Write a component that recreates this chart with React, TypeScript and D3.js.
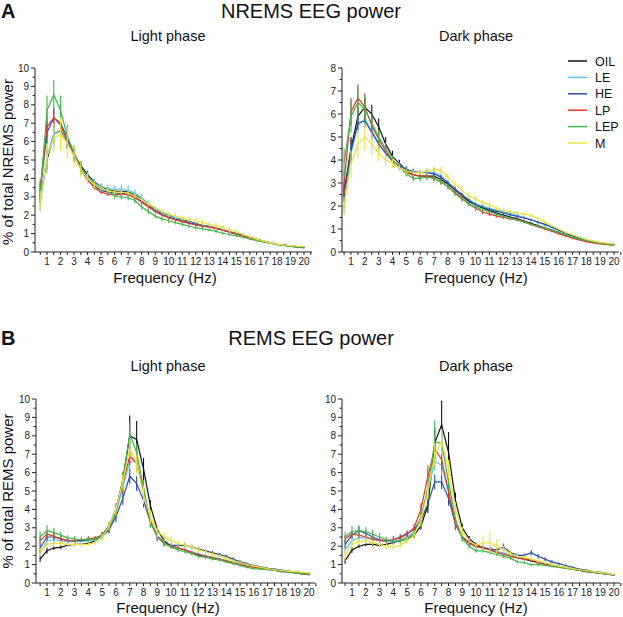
import React from "react";
import * as d3 from "d3";

const FREQ = [0.5,1,1.5,2,2.5,3,3.5,4,4.5,5,5.5,6,6.5,7,7.5,8,8.5,9,9.5,10,10.5,11,11.5,12,12.5,13,13.5,14,14.5,15,15.5,16,16.5,17,17.5,18,18.5,19,19.5,20];
const X_LABELS = [1,2,3,4,5,6,7,8,9,10,11,12,13,14,15,16,17,18,19,20];
const SERIES = ["OIL","LE","HE","LP","LEP","M"];
const COLORS = ["#111111","#5cc6e8","#2c4ea3","#e2362c","#3fb54a","#ebe23c"];

// NREMS light
const NL_OIL = [3.0,5.0,6.4,6.6,6.0,5.3,4.7,4.2,3.8,3.55,3.4,3.3,3.3,3.25,3.1,2.9,2.6,2.35,2.15,2.0,1.85,1.75,1.65,1.55,1.45,1.4,1.3,1.2,1.1,1.0,0.9,0.8,0.7,0.6,0.5,0.42,0.38,0.33,0.28,0.25];
const NL_LE = [2.6,5.2,6.4,6.6,6.0,5.3,4.6,4.1,3.75,3.55,3.45,3.4,3.4,3.35,3.2,2.95,2.65,2.35,2.15,2.0,1.85,1.72,1.62,1.52,1.45,1.38,1.3,1.2,1.1,1.0,0.9,0.8,0.7,0.6,0.5,0.42,0.37,0.32,0.28,0.25];
const NL_HE = [3.3,6.5,7.3,7.0,6.2,5.3,4.6,4.0,3.6,3.35,3.25,3.2,3.2,3.15,3.0,2.75,2.5,2.25,2.05,1.9,1.78,1.68,1.58,1.5,1.42,1.36,1.28,1.18,1.08,0.98,0.88,0.78,0.68,0.58,0.48,0.42,0.37,0.32,0.28,0.25];
const NL_LP = [3.5,6.8,7.3,6.9,6.0,5.2,4.5,3.9,3.5,3.25,3.15,3.1,3.15,3.1,2.95,2.7,2.45,2.2,2.0,1.85,1.75,1.65,1.55,1.47,1.4,1.35,1.28,1.18,1.08,0.98,0.88,0.78,0.68,0.58,0.48,0.42,0.37,0.32,0.28,0.25];
const NL_LEP = [3.2,7.7,8.55,7.7,6.3,5.4,4.5,4.0,3.7,3.45,3.3,3.05,3.0,2.95,2.8,2.45,2.2,1.95,1.8,1.7,1.6,1.5,1.4,1.32,1.26,1.2,1.12,1.02,0.95,0.88,0.8,0.7,0.62,0.55,0.48,0.4,0.35,0.3,0.25,0.22];
const NL_M = [2.8,5.2,6.2,6.4,5.9,5.2,4.5,4.0,3.65,3.45,3.35,3.25,3.25,3.2,3.05,2.85,2.6,2.4,2.2,2.05,1.95,1.85,1.78,1.7,1.6,1.5,1.42,1.32,1.2,1.1,0.95,0.82,0.7,0.6,0.5,0.43,0.38,0.35,0.32,0.3];
const NL_OIL_SEM = [0.3,0.5,0.5,0.5,0.4,0.3,0.25,0.2,0.15,0.12,0.1,0.1,0.1,0.1,0.1,0.1,0.1,0.08,0.08,0.08,0.07,0.07,0.06,0.06,0.06,0.05,0.05,0.05,0.05,0.05,0.04,0.04,0.04,0.03,0.03,0.03,0.03,0.02,0.02,0.02];
const NL_LE_SEM = [0.4,0.9,0.7,0.5,0.4,0.35,0.3,0.25,0.2,0.2,0.2,0.2,0.25,0.25,0.2,0.2,0.15,0.12,0.1,0.1,0.08,0.08,0.08,0.07,0.07,0.06,0.06,0.06,0.05,0.05,0.05,0.04,0.04,0.04,0.03,0.03,0.03,0.02,0.02,0.02];
const NL_HE_SEM = [0.4,0.6,0.5,0.5,0.4,0.3,0.25,0.2,0.15,0.12,0.1,0.1,0.1,0.1,0.1,0.1,0.1,0.08,0.08,0.08,0.07,0.07,0.06,0.06,0.06,0.05,0.05,0.05,0.05,0.05,0.04,0.04,0.04,0.03,0.03,0.03,0.03,0.02,0.02,0.02];
const NL_LP_SEM = [0.4,0.6,0.5,0.4,0.35,0.3,0.2,0.15,0.12,0.1,0.1,0.1,0.1,0.1,0.1,0.1,0.08,0.08,0.07,0.07,0.06,0.06,0.06,0.06,0.05,0.05,0.05,0.05,0.05,0.04,0.04,0.04,0.04,0.03,0.03,0.03,0.03,0.02,0.02,0.02];
const NL_LEP_SEM = [0.6,0.8,0.8,0.8,0.6,0.4,0.3,0.2,0.15,0.15,0.15,0.15,0.15,0.15,0.15,0.15,0.15,0.12,0.12,0.12,0.1,0.1,0.1,0.1,0.1,0.08,0.08,0.08,0.08,0.07,0.06,0.06,0.05,0.05,0.04,0.04,0.03,0.03,0.03,0.03];
const NL_M_SEM = [0.5,0.7,0.8,0.9,0.8,0.6,0.45,0.3,0.2,0.15,0.12,0.12,0.12,0.12,0.12,0.12,0.12,0.12,0.15,0.15,0.15,0.15,0.15,0.15,0.15,0.15,0.15,0.15,0.15,0.12,0.1,0.1,0.08,0.06,0.05,0.04,0.04,0.03,0.03,0.03];

// NREMS dark
const ND_OIL = [2.6,4.5,5.9,6.3,6.0,5.45,4.7,4.15,3.85,3.55,3.35,3.3,3.3,3.3,3.15,2.95,2.7,2.45,2.2,2.05,1.92,1.8,1.7,1.6,1.52,1.45,1.35,1.25,1.15,1.05,0.95,0.85,0.75,0.65,0.57,0.5,0.45,0.4,0.35,0.32];
const ND_LE = [1.9,4.3,5.5,5.8,5.3,4.7,4.3,3.95,3.75,3.6,3.5,3.45,3.5,3.45,3.3,3.05,2.75,2.5,2.3,2.1,2.0,1.9,1.82,1.75,1.68,1.6,1.5,1.4,1.3,1.2,1.08,0.95,0.82,0.7,0.6,0.52,0.46,0.4,0.36,0.33];
const ND_HE = [2.5,4.4,5.6,5.7,5.2,4.7,4.3,3.95,3.75,3.6,3.5,3.45,3.45,3.4,3.25,3.0,2.75,2.5,2.25,2.05,1.95,1.85,1.78,1.7,1.62,1.55,1.48,1.4,1.3,1.2,1.08,0.95,0.82,0.7,0.6,0.5,0.45,0.4,0.35,0.32];
const ND_LP = [3.0,6.1,6.7,6.3,5.5,4.9,4.4,3.95,3.7,3.45,3.35,3.3,3.3,3.2,3.05,2.85,2.6,2.35,2.1,1.9,1.75,1.65,1.57,1.5,1.45,1.4,1.32,1.2,1.1,1.0,0.9,0.8,0.7,0.6,0.52,0.45,0.4,0.35,0.32,0.3];
const ND_LEP = [3.9,5.9,6.5,6.2,5.6,5.0,4.5,4.0,3.7,3.4,3.2,3.2,3.25,3.2,3.05,2.85,2.55,2.3,2.1,1.95,1.85,1.75,1.65,1.55,1.48,1.4,1.3,1.2,1.12,1.05,0.95,0.85,0.75,0.65,0.57,0.5,0.44,0.38,0.34,0.3];
const ND_M = [2.0,3.8,4.7,5.0,4.7,4.3,4.0,3.85,3.65,3.5,3.45,3.45,3.5,3.6,3.55,3.25,2.95,2.7,2.45,2.3,2.15,2.05,1.9,1.8,1.75,1.7,1.65,1.6,1.45,1.3,1.15,1.0,0.85,0.75,0.65,0.55,0.48,0.42,0.38,0.35];
const ND_OIL_SEM = [0.4,0.5,0.4,0.4,0.4,0.35,0.3,0.25,0.15,0.12,0.1,0.1,0.1,0.1,0.1,0.1,0.12,0.1,0.08,0.08,0.07,0.07,0.06,0.06,0.06,0.05,0.05,0.05,0.05,0.05,0.04,0.04,0.04,0.03,0.03,0.03,0.03,0.02,0.02,0.02];
const ND_LE_SEM = [0.2,0.4,0.3,0.3,0.3,0.25,0.2,0.15,0.15,0.12,0.12,0.12,0.12,0.15,0.12,0.1,0.1,0.1,0.08,0.08,0.07,0.07,0.06,0.06,0.06,0.05,0.05,0.05,0.05,0.05,0.04,0.04,0.04,0.03,0.03,0.03,0.03,0.02,0.02,0.02];
const ND_HE_SEM = [0.3,0.5,0.3,0.3,0.3,0.25,0.2,0.15,0.12,0.12,0.12,0.1,0.1,0.1,0.1,0.1,0.1,0.08,0.08,0.08,0.07,0.07,0.06,0.06,0.06,0.05,0.05,0.05,0.05,0.05,0.04,0.04,0.04,0.03,0.03,0.03,0.03,0.02,0.02,0.02];
const ND_LP_SEM = [0.5,0.6,0.6,0.6,0.4,0.3,0.25,0.15,0.12,0.12,0.12,0.12,0.12,0.12,0.12,0.12,0.1,0.1,0.1,0.1,0.1,0.08,0.08,0.07,0.07,0.06,0.06,0.05,0.05,0.05,0.04,0.04,0.04,0.03,0.03,0.03,0.03,0.02,0.02,0.02];
const ND_LEP_SEM = [0.6,0.7,0.7,0.6,0.4,0.3,0.25,0.2,0.15,0.12,0.12,0.12,0.12,0.12,0.12,0.12,0.12,0.12,0.1,0.1,0.1,0.08,0.08,0.07,0.07,0.06,0.06,0.05,0.05,0.05,0.04,0.04,0.04,0.03,0.03,0.03,0.03,0.02,0.02,0.02];
const ND_M_SEM = [0.4,0.6,0.6,0.6,0.5,0.35,0.25,0.2,0.15,0.12,0.12,0.12,0.15,0.15,0.15,0.15,0.15,0.15,0.12,0.12,0.1,0.1,0.1,0.08,0.08,0.08,0.08,0.08,0.07,0.07,0.06,0.05,0.05,0.04,0.04,0.03,0.03,0.03,0.02,0.02];

// REMS light
const RL_OIL = [1.3,1.75,1.9,1.95,2.05,2.1,2.1,2.15,2.3,2.6,3.1,4.0,5.6,8.0,7.8,6.2,4.2,2.9,2.3,2.0,1.9,1.8,1.65,1.5,1.45,1.4,1.3,1.2,1.1,1.05,0.95,0.88,0.82,0.75,0.7,0.62,0.6,0.55,0.5,0.45];
const RL_LE = [1.6,2.3,2.35,2.3,2.25,2.25,2.25,2.3,2.35,2.5,2.9,3.8,5.2,6.6,6.6,5.0,3.4,2.5,2.15,2.0,1.9,1.82,1.7,1.58,1.48,1.4,1.32,1.22,1.12,1.03,0.95,0.88,0.82,0.76,0.7,0.65,0.6,0.56,0.52,0.5];
const RL_HE = [1.9,2.5,2.5,2.4,2.3,2.3,2.3,2.35,2.4,2.55,2.9,3.6,4.6,5.8,5.4,4.5,3.3,2.55,2.2,2.05,2.05,2.05,1.95,1.85,1.75,1.65,1.55,1.45,1.3,1.15,1.05,0.95,0.88,0.8,0.75,0.7,0.65,0.6,0.55,0.52];
const RL_LP = [2.3,2.65,2.55,2.4,2.3,2.3,2.35,2.4,2.45,2.6,3.0,4.0,5.4,6.9,6.5,5.0,3.4,2.5,2.15,2.0,1.9,1.8,1.65,1.55,1.45,1.35,1.28,1.2,1.1,1.0,0.92,0.85,0.8,0.75,0.7,0.65,0.6,0.55,0.52,0.48];
const RL_LEP = [2.5,2.85,2.75,2.6,2.45,2.4,2.35,2.35,2.4,2.6,3.0,3.9,5.6,8.1,7.1,5.2,3.3,2.5,2.15,1.95,1.8,1.7,1.6,1.45,1.4,1.3,1.25,1.15,1.05,0.95,0.85,0.78,0.75,0.72,0.7,0.65,0.6,0.55,0.5,0.48];
const RL_M = [1.7,2.1,2.15,2.15,2.1,2.1,2.1,2.1,2.2,2.5,3.1,4.0,5.5,7.3,6.5,4.8,3.6,2.8,2.5,2.3,2.15,2.05,1.95,1.8,1.7,1.55,1.45,1.35,1.2,1.1,1.0,0.92,0.85,0.78,0.72,0.68,0.65,0.62,0.58,0.55];
const RL_OIL_SEM = [0.15,0.15,0.1,0.1,0.1,0.1,0.1,0.1,0.1,0.15,0.2,0.3,0.4,1.1,1.0,0.6,0.3,0.2,0.15,0.1,0.1,0.08,0.08,0.07,0.07,0.06,0.06,0.05,0.05,0.05,0.05,0.04,0.04,0.04,0.03,0.03,0.03,0.03,0.03,0.03];
const RL_LE_SEM = [0.2,0.2,0.2,0.15,0.15,0.1,0.1,0.1,0.1,0.15,0.2,0.3,0.4,0.5,0.5,0.4,0.3,0.2,0.15,0.1,0.1,0.08,0.08,0.07,0.07,0.06,0.06,0.05,0.05,0.05,0.05,0.04,0.04,0.04,0.03,0.03,0.03,0.03,0.03,0.03];
const RL_HE_SEM = [0.25,0.2,0.2,0.15,0.15,0.1,0.1,0.1,0.1,0.15,0.2,0.3,0.35,0.4,0.4,0.4,0.3,0.2,0.15,0.12,0.12,0.12,0.12,0.12,0.1,0.1,0.1,0.1,0.1,0.08,0.07,0.06,0.05,0.05,0.04,0.04,0.04,0.03,0.03,0.03];
const RL_LP_SEM = [0.2,0.2,0.15,0.15,0.1,0.1,0.1,0.15,0.1,0.15,0.2,0.35,0.45,0.5,0.5,0.4,0.3,0.2,0.15,0.1,0.1,0.08,0.08,0.07,0.07,0.06,0.06,0.05,0.05,0.05,0.05,0.04,0.04,0.04,0.03,0.03,0.03,0.03,0.03,0.03];
const RL_LEP_SEM = [0.3,0.3,0.25,0.2,0.15,0.15,0.15,0.15,0.15,0.15,0.2,0.3,0.4,0.6,0.5,0.4,0.3,0.2,0.15,0.12,0.12,0.1,0.1,0.1,0.1,0.08,0.08,0.07,0.07,0.06,0.06,0.05,0.05,0.05,0.04,0.04,0.04,0.03,0.03,0.03];
const RL_M_SEM = [0.2,0.2,0.2,0.15,0.15,0.12,0.12,0.12,0.12,0.15,0.2,0.3,0.4,0.5,0.5,0.5,0.4,0.3,0.25,0.25,0.2,0.2,0.2,0.15,0.15,0.12,0.1,0.1,0.1,0.08,0.07,0.06,0.05,0.05,0.04,0.04,0.04,0.03,0.03,0.03];

// REMS dark
const RD_OIL = [1.2,1.8,2.0,2.1,2.1,2.05,2.1,2.2,2.3,2.4,2.6,3.1,4.2,7.6,8.6,7.1,4.5,3.0,2.4,2.1,1.9,1.8,1.7,1.6,1.5,1.4,1.3,1.2,1.1,1.05,0.95,0.88,0.8,0.75,0.68,0.62,0.58,0.52,0.48,0.42];
const RD_LE = [1.8,2.3,2.45,2.45,2.35,2.3,2.25,2.25,2.35,2.5,2.8,3.6,5.0,6.6,6.4,4.9,3.3,2.5,2.15,1.95,1.88,1.8,1.7,1.6,1.5,1.42,1.35,1.28,1.18,1.08,1.0,0.92,0.85,0.78,0.72,0.66,0.6,0.55,0.5,0.46];
const RD_HE = [2.1,2.6,2.85,2.7,2.5,2.35,2.3,2.35,2.5,2.7,2.9,3.4,4.3,5.5,5.5,4.6,3.2,2.5,2.2,2.0,1.95,1.85,1.8,1.95,1.65,1.5,1.5,1.65,1.45,1.3,1.15,1.05,0.95,0.85,0.75,0.7,0.62,0.58,0.52,0.45];
const RD_LP = [2.4,2.65,2.6,2.5,2.4,2.3,2.3,2.35,2.45,2.65,3.0,4.0,5.8,7.3,6.7,5.0,3.2,2.5,2.15,2.0,1.9,1.8,1.65,1.55,1.45,1.35,1.3,1.25,1.1,1.0,0.95,0.9,0.82,0.75,0.7,0.65,0.6,0.55,0.5,0.45];
const RD_LEP = [2.5,2.8,2.85,2.8,2.65,2.5,2.35,2.25,2.3,2.4,2.7,3.5,5.2,7.65,7.6,5.5,3.5,2.4,2.0,1.75,1.75,1.65,1.55,1.45,1.35,1.15,1.1,1.0,1.0,0.95,0.9,0.85,0.8,0.75,0.7,0.65,0.6,0.55,0.5,0.45];
const RD_M = [1.5,2.1,2.25,2.3,2.2,2.1,2.0,1.95,2.05,2.3,2.6,3.4,5.0,7.0,7.7,6.2,4.0,2.8,2.3,2.05,2.15,2.2,2.0,1.8,1.6,1.45,1.4,1.3,1.2,1.1,1.0,0.92,0.85,0.78,0.72,0.68,0.62,0.56,0.52,0.45];
const RD_OIL_SEM = [0.15,0.15,0.1,0.1,0.1,0.1,0.15,0.1,0.1,0.1,0.15,0.2,0.4,0.8,1.3,1.1,0.4,0.2,0.15,0.1,0.1,0.08,0.08,0.07,0.07,0.06,0.06,0.05,0.05,0.05,0.05,0.04,0.04,0.04,0.03,0.03,0.03,0.03,0.03,0.03];
const RD_LE_SEM = [0.2,0.2,0.2,0.15,0.15,0.15,0.12,0.12,0.12,0.15,0.2,0.3,0.4,0.5,0.5,0.4,0.3,0.15,0.12,0.1,0.1,0.08,0.08,0.07,0.07,0.06,0.06,0.05,0.05,0.05,0.05,0.04,0.04,0.04,0.03,0.03,0.03,0.03,0.03,0.03];
const RD_HE_SEM = [0.2,0.2,0.2,0.15,0.15,0.15,0.12,0.15,0.15,0.15,0.15,0.2,0.3,0.4,0.4,0.4,0.3,0.15,0.12,0.1,0.1,0.1,0.1,0.2,0.1,0.1,0.1,0.15,0.12,0.1,0.08,0.06,0.05,0.05,0.04,0.04,0.04,0.03,0.03,0.03];
const RD_LP_SEM = [0.2,0.2,0.15,0.15,0.15,0.15,0.2,0.2,0.15,0.15,0.2,0.35,0.6,0.5,0.6,0.4,0.3,0.15,0.12,0.1,0.1,0.08,0.08,0.07,0.07,0.06,0.06,0.05,0.05,0.05,0.05,0.04,0.04,0.04,0.03,0.03,0.03,0.03,0.03,0.03];
const RD_LEP_SEM = [0.3,0.3,0.3,0.25,0.25,0.2,0.15,0.15,0.12,0.12,0.15,0.3,0.5,1.2,0.6,0.4,0.3,0.15,0.12,0.1,0.1,0.1,0.1,0.1,0.08,0.08,0.08,0.07,0.07,0.06,0.06,0.05,0.05,0.05,0.04,0.04,0.04,0.03,0.03,0.03];
const RD_M_SEM = [0.3,0.25,0.2,0.2,0.15,0.15,0.15,0.15,0.15,0.2,0.25,0.35,0.5,0.6,0.7,0.5,0.4,0.25,0.15,0.15,0.4,0.6,0.4,0.2,0.15,0.12,0.1,0.1,0.1,0.08,0.07,0.06,0.05,0.05,0.04,0.04,0.04,0.03,0.03,0.03];

const FONT = "'Liberation Sans', Arial, Helvetica, sans-serif";

type PanelCfg = {
  values: number[][];
  sems: number[][];
  yMax: number;
  axisX0: number; x1: number; x20: number; axisX1: number;
  y0: number; yTop: number;
};

const PANELS: PanelCfg[] = [
  { values: [NL_OIL, NL_LE, NL_HE, NL_LP, NL_LEP, NL_M], sems: [NL_OIL_SEM, NL_LE_SEM, NL_HE_SEM, NL_LP_SEM, NL_LEP_SEM, NL_M_SEM], yMax: 10, axisX0: 35, x1: 47, x20: 304, axisX1: 312, y0: 252, yTop: 68 },
  { values: [ND_OIL, ND_LE, ND_HE, ND_LP, ND_LEP, ND_M], sems: [ND_OIL_SEM, ND_LE_SEM, ND_HE_SEM, ND_LP_SEM, ND_LEP_SEM, ND_M_SEM], yMax: 8, axisX0: 342, x1: 351, x20: 614, axisX1: 619, y0: 252, yTop: 68 },
  { values: [RL_OIL, RL_LE, RL_HE, RL_LP, RL_LEP, RL_M], sems: [RL_OIL_SEM, RL_LE_SEM, RL_HE_SEM, RL_LP_SEM, RL_LEP_SEM, RL_M_SEM], yMax: 10, axisX0: 36, x1: 47, x20: 309, axisX1: 315, y0: 583, yTop: 399 },
  { values: [RD_OIL, RD_LE, RD_HE, RD_LP, RD_LEP, RD_M], sems: [RD_OIL_SEM, RD_LE_SEM, RD_HE_SEM, RD_LP_SEM, RD_LEP_SEM, RD_M_SEM], yMax: 10, axisX0: 342, x1: 352, x20: 614, axisX1: 620, y0: 583, yTop: 399 },
];

function Panel({ cfg }: { cfg: PanelCfg }) {
  const x = d3.scaleLinear().domain([1, 20]).range([cfg.x1, cfg.x20]);
  const y = d3.scaleLinear().domain([0, cfg.yMax]).range([cfg.y0, cfg.yTop]);
  const line = d3.line<number>().x((_, i) => x(FREQ[i])).y((v) => y(v)).curve(d3.curveLinear);
  const yMajor = d3.range(0, cfg.yMax + 0.001, 1);
  const yMinor = d3.range(0.5, cfg.yMax, 1);
  const xTicks = d3.range(0.5, 20.51, 0.5);
  return (
    <g>
      {cfg.values.map((vals, s) => (
        <g key={s} stroke={COLORS[s]} fill="none" strokeWidth={1.2}>
          {vals.map((v, i) => (
            <line key={i} x1={x(FREQ[i])} x2={x(FREQ[i])} y1={y(v - cfg.sems[s][i])} y2={y(v + cfg.sems[s][i])} strokeWidth={1.1} />
          ))}
          <path d={line(vals) || ""} />
        </g>
      ))}
      <g stroke="#222" strokeWidth={1} fill="none">
        <line x1={cfg.axisX0} x2={cfg.axisX0} y1={cfg.y0} y2={cfg.yTop} />
        <line x1={cfg.axisX0} x2={cfg.axisX1} y1={cfg.y0} y2={cfg.y0} />
        {yMajor.map((t) => (
          <line key={"ma" + t} x1={cfg.axisX0 - 4} x2={cfg.axisX0} y1={y(t)} y2={y(t)} />
        ))}
        {yMinor.map((t) => (
          <line key={"mi" + t} x1={cfg.axisX0 - 2.5} x2={cfg.axisX0} y1={y(t)} y2={y(t)} />
        ))}
        {xTicks.map((t) => (
          <line key={"x" + t} x1={x(t)} x2={x(t)} y1={cfg.y0} y2={cfg.y0 + 3} />
        ))}
      </g>
      <g fontFamily={FONT} fontSize={10} fill="#222">
        {yMajor.map((t) => (
          <text key={t} x={cfg.axisX0 - 6} y={y(t) + 3.5} textAnchor="end">{t}</text>
        ))}
        {X_LABELS.map((t) => (
          <text key={t} x={x(t)} y={cfg.y0 + 13} textAnchor="middle">{t}</text>
        ))}
      </g>
    </g>
  );
}

export default function App() {
  return (
    <svg width={623} height={617} style={{ position: "absolute", left: 0, top: 0, background: "#fff" }}>
      <rect width={623} height={617} fill="#fff" />
      <g fontFamily={FONT} fill="#111">
        <text x={1} y={18} fontSize={20} fontWeight="bold">A</text>
        <text x={311} y={18} fontSize={20} textAnchor="middle">NREMS EEG power</text>
        <text x={168} y={41} fontSize={14.5} textAnchor="middle">Light phase</text>
        <text x={476} y={41} fontSize={14.5} textAnchor="middle">Dark phase</text>
        <text x={165} y={283} fontSize={15} textAnchor="middle">Frequency (Hz)</text>
        <text x={476} y={283} fontSize={15} textAnchor="middle">Frequency (Hz)</text>
        <text transform="translate(13,162) rotate(-90)" fontSize={15} textAnchor="middle">% of total NREMS power</text>

        <text x={1} y={345} fontSize={20} fontWeight="bold">B</text>
        <text x={311} y={345} fontSize={20} textAnchor="middle">REMS EEG power</text>
        <text x={168} y={371} fontSize={14.5} textAnchor="middle">Light phase</text>
        <text x={476} y={371} fontSize={14.5} textAnchor="middle">Dark phase</text>
        <text x={168} y={613} fontSize={15} textAnchor="middle">Frequency (Hz)</text>
        <text x={476} y={613} fontSize={15} textAnchor="middle">Frequency (Hz)</text>
        <text transform="translate(13,491) rotate(-90)" fontSize={15} textAnchor="middle">% of total REMS power</text>
      </g>
      {PANELS.map((p, i) => (
        <Panel key={i} cfg={p} />
      ))}
      <g fontFamily={FONT} fontSize={12.5} fill="#111">
        {SERIES.map((s, i) => (
          <g key={s} transform={`translate(0, ${61 + i * 16.4})`}>
            <line x1={568} x2={587} y1={0} y2={0} stroke={COLORS[i]} strokeWidth={1.5} />
            <text x={595} y={4.5}>{s}</text>
          </g>
        ))}
      </g>
    </svg>
  );
}
